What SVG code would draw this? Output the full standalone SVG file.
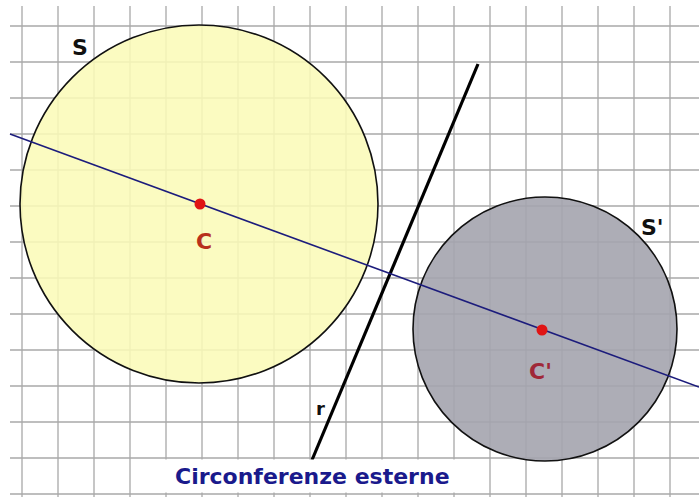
<svg xmlns="http://www.w3.org/2000/svg" width="699" height="497" viewBox="0 0 699 497">
<style>
.grid line{stroke:#a8a8a8;stroke-width:1.3}
.circ{stroke:#111;stroke-width:1.6}
.lbl{font-family:"DejaVu Sans","Verdana",sans-serif;font-weight:bold}
</style>
<rect width="699" height="497" fill="#fff"/>
<g id="grid" class="grid">
<line x1="22" y1="6" x2="22" y2="497"/><line x1="58" y1="6" x2="58" y2="497"/><line x1="94" y1="6" x2="94" y2="497"/><line x1="130" y1="6" x2="130" y2="497"/><line x1="166" y1="6" x2="166" y2="497"/><line x1="202" y1="6" x2="202" y2="497"/><line x1="238" y1="6" x2="238" y2="497"/><line x1="274" y1="6" x2="274" y2="497"/><line x1="310" y1="6" x2="310" y2="497"/><line x1="346" y1="6" x2="346" y2="497"/><line x1="382" y1="6" x2="382" y2="497"/><line x1="418" y1="6" x2="418" y2="497"/><line x1="454" y1="6" x2="454" y2="497"/><line x1="490" y1="6" x2="490" y2="497"/><line x1="526" y1="6" x2="526" y2="497"/><line x1="562" y1="6" x2="562" y2="497"/><line x1="598" y1="6" x2="598" y2="497"/><line x1="634" y1="6" x2="634" y2="497"/><line x1="670" y1="6" x2="670" y2="497"/>
<line x1="10" y1="26" x2="699" y2="26"/><line x1="10" y1="62" x2="699" y2="62"/><line x1="10" y1="98" x2="699" y2="98"/><line x1="10" y1="134" x2="699" y2="134"/><line x1="10" y1="170" x2="699" y2="170"/><line x1="10" y1="206" x2="699" y2="206"/><line x1="10" y1="242" x2="699" y2="242"/><line x1="10" y1="278" x2="699" y2="278"/><line x1="10" y1="314" x2="699" y2="314"/><line x1="10" y1="350" x2="699" y2="350"/><line x1="10" y1="386" x2="699" y2="386"/><line x1="10" y1="422" x2="699" y2="422"/><line x1="10" y1="458" x2="699" y2="458"/><line x1="10" y1="494" x2="699" y2="494"/>
</g>
<g id="circle-S">
<circle cx="199" cy="204" r="179" fill="#fafab8" fill-opacity="0.87" class="circ"/>
<text class="lbl" x="72" y="55" font-size="22" fill="#111">S</text>
</g>
<g id="circle-S-prime">
<circle cx="545" cy="329" r="132" fill="#a4a4ae" fill-opacity="0.9" class="circ"/>
<text class="lbl" x="641" y="235" font-size="22" fill="#111">S'</text>
</g>
<g id="line-r">
<line x1="312" y1="460" x2="478" y2="64" stroke="#000" stroke-width="3.2"/>
<text class="lbl" x="316" y="415" font-size="18" fill="#111">r</text>
</g>
<g id="connectors">
<line x1="10" y1="134" x2="699" y2="387" stroke="#1c1c7c" stroke-width="1.6"/>
</g>
<g id="center-C">
<circle cx="200" cy="204" r="5.5" fill="#e01414"/>
<text class="lbl" x="204" y="249" font-size="22" fill="#b8301c" text-anchor="middle">C</text>
</g>
<g id="center-C-prime">
<circle cx="542" cy="330" r="5.5" fill="#e01414"/>
<text class="lbl" x="529" y="379" font-size="22" fill="#a02838">C'</text>
</g>
<g id="title">
<rect x="160" y="459.5" width="296" height="33" fill="#fff"/>
<text class="lbl" x="175" y="484" font-size="22" fill="#1a1a8c">Circonferenze esterne</text>
</g>
</svg>
